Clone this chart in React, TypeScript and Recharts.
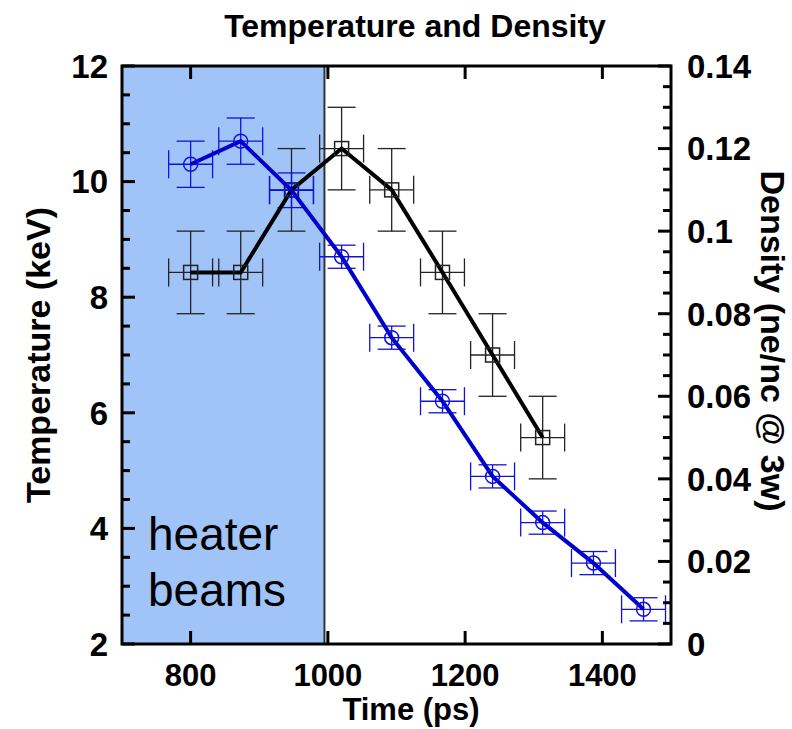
import React from "react";
import { ComposedChart, Scatter, XAxis, YAxis, ErrorBar, ReferenceArea } from "recharts";

// time in ps
const times = [800, 873, 947, 1020, 1093, 1167, 1240, 1313, 1387, 1460];
const timeErr = [32, 32, 32, 32, 32, 32, 32, 32, 32, 32];
// temperature (keV), blue circles
const temperature = [10.3, 10.7, 9.85, 8.7, 7.3, 6.2, 4.9, 4.1, 3.4, 2.6];
const temperatureErr = [0.4, 0.4, 0.3, 0.2, 0.2, 0.2, 0.2, 0.2, 0.2, 0.2];
// density (ne/nc @ 3w), black squares
const density = [0.09, 0.09, 0.11, 0.12, 0.11, 0.09, 0.07, 0.05];
const densityErr = [0.01, 0.01, 0.01, 0.01, 0.01, 0.01, 0.01, 0.01];

const xTicks = [800, 1000, 1200, 1400];
const tempTicks = [2, 4, 6, 8, 10, 12];
const densTicks = [0, 0.02, 0.04, 0.06, 0.08, 0.1, 0.12, 0.14];

const heaterStart = 700;
const heaterEnd = 995;

const tempData = times.map((t, i) => ({ time: t, timeErr: timeErr[i], temp: temperature[i], tempErr: temperatureErr[i] }));
const densData = density.map((d, i) => ({ time: times[i], timeErr: timeErr[i], dens: d, densErr: densityErr[i] }));

// minor ticks, every quarter of a major step
const withMinor = (major: number[], step: number) => {
  const out: number[] = [];
  for (let i = 0; i < major.length - 1; i++) {
    for (let k = 0; k < 4; k++) out.push(+(major[i] + (k * step) / 4).toFixed(4));
  }
  out.push(major[major.length - 1]);
  return out;
};
const tempAll = withMinor(tempTicks, 2);
const densAll = withMinor(densTicks, 0.02);

const W = 792;
const H = 729;
const PL = 122;
const PR = 671;
const PT = 66;
const PB = 644;

const FONT = "'Liberation Sans', Arial, sans-serif";
const tickFont = { fontFamily: FONT, fontWeight: 700, fontSize: 33, fill: "#000" };

const fmtDens = (v: number) => String(+v.toFixed(3));

const LeftTick = (props: any) => {
  const { y, payload } = props;
  const v = payload.value;
  const major = tempTicks.some((m) => Math.abs(m - v) < 1e-6);
  return (
    <g>
      <line x1={PL} x2={PL + (major ? 13 : 8)} y1={y} y2={y} stroke="#000" strokeWidth={3} />
      {major && (
        <text x={PL - 14} y={y} dy="0.36em" textAnchor="end" {...tickFont}>
          {v}
        </text>
      )}
    </g>
  );
};

const RightTick = (props: any) => {
  const { y, payload } = props;
  const v = payload.value;
  const major = densTicks.some((m) => Math.abs(m - v) < 1e-6);
  return (
    <g>
      <line x1={PR} x2={PR - (major ? 13 : 8)} y1={y} y2={y} stroke="#000" strokeWidth={3} />
      {major && (
        <text x={PR + 16} y={y} dy="0.36em" textAnchor="start" {...tickFont}>
          {fmtDens(v)}
        </text>
      )}
    </g>
  );
};

const BottomTick = (props: any) => {
  const { x, payload } = props;
  return (
    <g>
      <line x1={x} x2={x} y1={PB} y2={PB - 13} stroke="#000" strokeWidth={3} />
      <line x1={x} x2={x} y1={PT} y2={PT + 13} stroke="#000" strokeWidth={3} />
      <text x={x} y={PB + 42} textAnchor="middle" {...tickFont} fontSize={31}>
        {payload.value}
      </text>
    </g>
  );
};

const Circle = (props: any) => (
  <circle cx={props.cx} cy={props.cy} r={7} fill="none" stroke="#1010e0" strokeWidth={1.5} />
);
const Square = (props: any) => (
  <rect x={props.cx - 7} y={props.cy - 7} width={14} height={14} fill="none" stroke="#222" strokeWidth={1.5} />
);

const label: React.CSSProperties = {
  position: "absolute",
  fontFamily: FONT,
  fontWeight: 700,
  fontSize: 34,
  color: "#000",
  whiteSpace: "nowrap",
};

export default function App() {
  return (
    <div style={{ position: "absolute", left: 0, top: 0, width: W, height: H, background: "#fff", overflow: "hidden" }}>
      <ComposedChart
        width={W}
        height={H}
        margin={{ top: PT, right: W - PR - 60, bottom: H - PB - 40, left: PL - 60 }}
      >
        <XAxis
          type="number"
          dataKey="time"
          domain={[700, 1500]}
          ticks={xTicks}
          interval={0}
          height={40}
          axisLine={false}
          tickLine={false}
          tick={<BottomTick />}
          allowDataOverflow
        />
        <YAxis
          yAxisId="T"
          type="number"
          domain={[2, 12]}
          ticks={tempAll}
          interval={0}
          width={60}
          axisLine={false}
          tickLine={false}
          tick={<LeftTick />}
        />
        <YAxis
          yAxisId="D"
          orientation="right"
          type="number"
          domain={[0, 0.14]}
          ticks={densAll}
          interval={0}
          width={60}
          axisLine={false}
          tickLine={false}
          tick={<RightTick />}
        />
        <ReferenceArea
          yAxisId="T"
          x1={heaterStart}
          x2={heaterEnd}
          y1={2}
          y2={12}
          fill="#a0c4f8"
          fillOpacity={1}
          stroke="#333"
          strokeWidth={2}
        />
        <Scatter
          yAxisId="D"
          data={densData}
          dataKey="dens"
          shape={<Square />}
          line={{ stroke: "#000", strokeWidth: 4 }}
          lineType="joint"
          isAnimationActive={false}
        >
          <ErrorBar dataKey="densErr" direction="y" width={14} stroke="#222" strokeWidth={1.3} />
          <ErrorBar dataKey="timeErr" direction="x" width={14} stroke="#222" strokeWidth={1.3} />
        </Scatter>
        <Scatter
          yAxisId="T"
          data={tempData}
          dataKey="temp"
          shape={<Circle />}
          line={{ stroke: "#0000cc", strokeWidth: 4 }}
          lineType="joint"
          isAnimationActive={false}
        >
          <ErrorBar dataKey="tempErr" direction="y" width={14} stroke="#1010e0" strokeWidth={1.3} />
          <ErrorBar dataKey="timeErr" direction="x" width={14} stroke="#1010e0" strokeWidth={1.3} />
        </Scatter>
        <ReferenceArea
          yAxisId="T"
          x1={700}
          x2={1500}
          y1={2}
          y2={12}
          fill="none"
          stroke="#000"
          strokeWidth={3}
        />
      </ComposedChart>
      <div style={{ ...label, fontSize: 32, left: 0, width: 830, top: 8, textAlign: "center" }}>
        Temperature and Density
      </div>
      <div
        style={{
          ...label,
          fontSize: 31,
          lineHeight: "31px",
          left: 411,
          top: 709,
          transform: "translate(-50%, -50%)",
        }}
      >
        Time (ps)
      </div>
      <div
        style={{
          ...label,
          left: 38,
          top: 355,
          transform: "translate(-50%, -50%) rotate(-90deg)",
        }}
      >
        Temperature (keV)
      </div>
      <div
        style={{
          ...label,
          left: 772,
          top: 341,
          transform: "translate(-50%, -50%) rotate(90deg)",
        }}
      >
        Density (ne/nc @ 3w)
      </div>
      <div
        style={{
          position: "absolute",
          left: 148,
          top: 506,
          fontFamily: FONT,
          fontSize: 46,
          lineHeight: "56px",
          color: "#000",
        }}
      >
        heater
        <br />
        beams
      </div>
    </div>
  );
}
